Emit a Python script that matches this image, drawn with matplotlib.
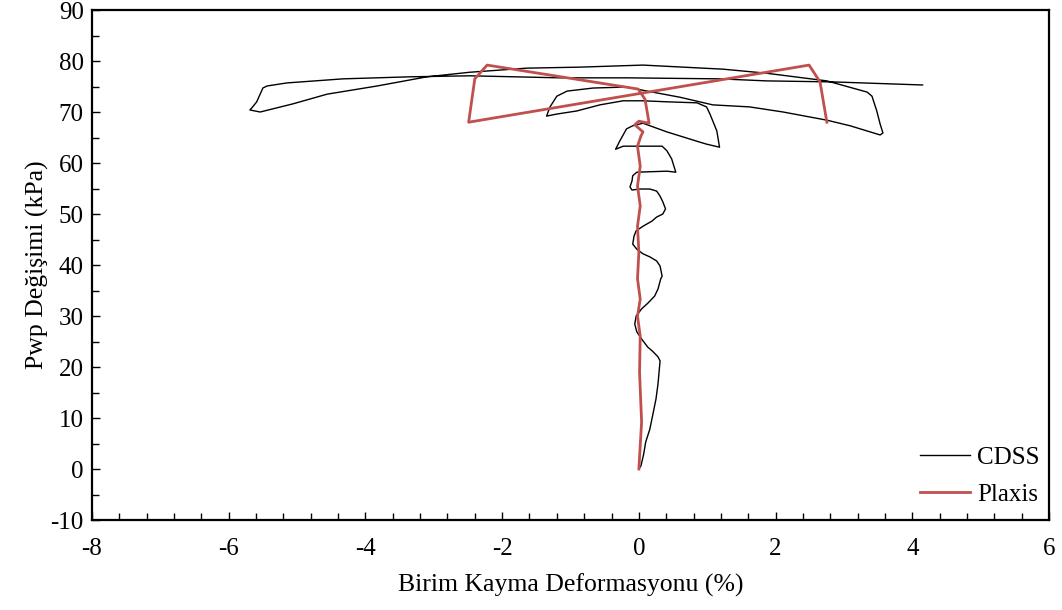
import matplotlib
matplotlib.use("Agg")
import matplotlib.pyplot as plt
from matplotlib.ticker import MultipleLocator

# Laboratory cyclic direct simple shear (CDSS) record: shear strain (%) vs excess pore pressure (kPa)
cdss_strain = [
    0.00, 0.03, 0.07, 0.10, 0.16, 0.20, 0.25, 0.28, 0.31, 0.28, 0.20, 0.13, 0.04, -0.03,
    -0.06, -0.04, 0.04, 0.13, 0.23, 0.28, 0.32, 0.34, 0.31, 0.26, 0.16, 0.06, -0.03, -0.09,
    -0.07, -0.04, 0.06, 0.19, 0.26, 0.35, 0.39, 0.35, 0.31, 0.26, 0.16, 0.01, -0.10, -0.13,
    -0.10, -0.09, -0.03, 0.41, 0.54, 0.48, 0.41, 0.34, -0.03, -0.23, -0.34, -0.28, -0.18,
    -0.09, 0.06, 0.41, 0.89, 0.99, 1.18, 1.14, 1.04, 0.99, 0.85, 0.41, 0.06, -0.23, -0.57,
    -0.91, -1.20, -1.35, -1.30, -1.20, -1.05, -0.67, -0.18, 0.12, 0.60, 1.08, 1.62, 2.11,
    2.75, 3.09, 3.53, 3.57, 3.53, 3.48, 3.41, 3.34, 2.75, 1.87, 1.23, 0.06, -0.86, -1.64,
    -2.47, -3.10, -3.83, -4.56, -5.06, -5.54, -5.69, -5.65, -5.59, -5.54, -5.50, -5.44,
    -5.15, -4.33, -3.35, -2.47, -1.16, -0.18, 1.18, 1.87, 2.84, 4.15,
]
cdss_pwp = [
    0.0, 0.6, 2.9, 5.3, 7.8, 10.4, 13.7, 16.7, 21.2, 22.0, 23.1, 23.9, 25.5, 26.9,
    28.4, 30.0, 31.4, 32.5, 33.9, 35.3, 37.3, 37.8, 39.8, 40.8, 41.6, 42.2, 43.1, 44.1,
    45.7, 46.7, 47.6, 48.6, 49.4, 50.0, 51.0, 52.4, 53.5, 54.5, 54.9, 54.9, 54.7, 55.3,
    56.5, 57.5, 58.2, 58.4, 58.2, 60.8, 62.4, 63.3, 63.3, 63.3, 62.7, 64.3, 66.7,
    67.3, 67.8, 66.1, 64.1, 63.7, 63.1, 66.3, 69.6, 71.0, 71.8, 72.0, 72.2, 72.2, 71.4,
    70.2, 69.6, 69.2, 71.0, 73.1, 74.1, 74.7, 74.9, 74.1, 72.9, 71.4, 71.0, 70.0,
    68.4, 67.3, 65.5, 65.9, 67.6, 70.2, 73.1, 73.9, 76.1, 77.6, 78.4, 79.2, 78.8, 78.6,
    77.8, 76.9, 75.1, 73.5, 71.6, 70.0, 70.4, 71.0, 72.0, 73.5, 74.7, 75.1,
    75.7, 76.5, 76.9, 77.1, 76.7, 76.7, 76.5, 76.1, 75.9, 75.3,
]

# Numerical (Plaxis) prediction
plaxis_strain = [
    0.00, 0.04, 0.01, 0.02, -0.02, 0.02, -0.02, 0.00, -0.02, 0.02, -0.02, 0.02, -0.02,
    0.03, 0.06, -0.06, 0.00, 0.15, 0.09, -0.01, -2.22, -2.40, -2.49, 2.49, 2.65, 2.75,
]
plaxis_pwp = [
    0.0, 9.2, 19.0, 26.0, 30.0, 33.3, 37.3, 42.5, 47.6, 51.6, 55.5, 59.4, 63.3,
    65.3, 66.1, 67.5, 68.2, 67.8, 72.5, 74.5, 79.2, 76.5, 68.0, 79.2, 75.9, 68.0,
]

plt.rcParams["font.family"] = ["Liberation Serif", "DejaVu Serif"]
plt.rcParams["axes.unicode_minus"] = False

fig = plt.figure(figsize=(10.62, 6.10), dpi=100)
ax = fig.add_axes([0.0866, 0.1475, 0.9012, 0.8361])

ax.plot(cdss_strain, cdss_pwp, color="black", lw=1.0, label="CDSS")
ax.plot(plaxis_strain, plaxis_pwp, color="#C0504D", lw=2.0, label="Plaxis")

ax.set_xlim(-8, 6)
ax.set_ylim(-10, 90)
ax.xaxis.set_major_locator(MultipleLocator(2))
ax.xaxis.set_minor_locator(MultipleLocator(0.4))
ax.yaxis.set_major_locator(MultipleLocator(10))
ax.yaxis.set_minor_locator(MultipleLocator(5))

ax.tick_params(which="both", direction="in", labelsize=18, width=1.0)
ax.tick_params(which="major", length=6)
ax.tick_params(which="minor", length=5)
ax.tick_params(axis="x", which="major", pad=13)
ax.tick_params(axis="y", which="major", pad=6)
for sp in ax.spines.values():
    sp.set_linewidth(1.6)

ax.set_xlabel("Birim Kayma Deformasyonu (%)", fontsize=18.5, labelpad=10)
ax.set_ylabel("Pwp Değişimi (kPa)", fontsize=18.5, labelpad=1)

ax.legend(loc="lower right", bbox_to_anchor=(1.006, -0.002), frameon=False,
          fontsize=18, handlelength=2.0, handletextpad=0.3, labelspacing=0.6,
          borderaxespad=0.2)

fig.savefig("out.png", dpi=100)
